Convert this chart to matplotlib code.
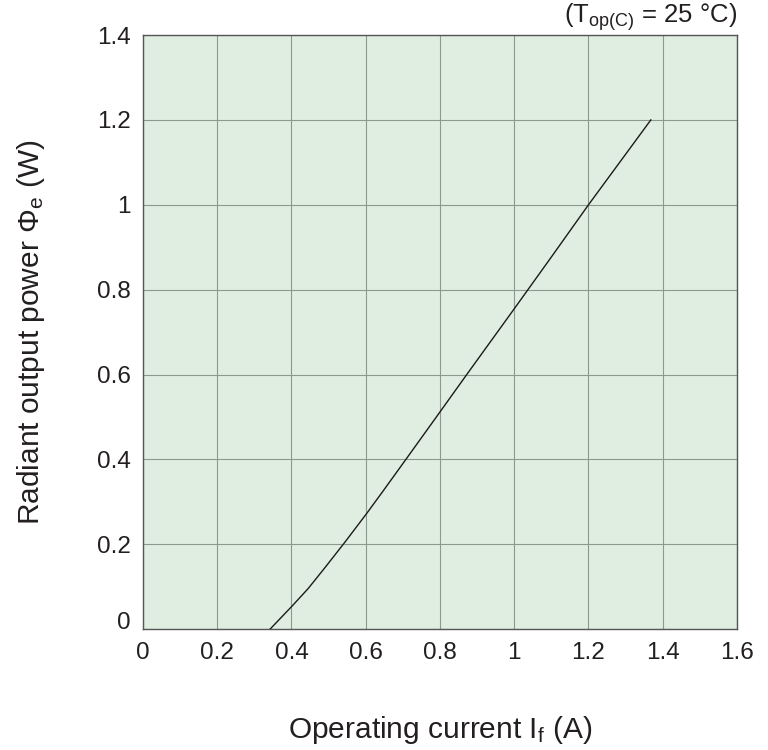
import matplotlib
matplotlib.use("Agg")
import matplotlib.pyplot as plt

plt.rcParams['font.family'] = ['Liberation Sans', 'DejaVu Sans']
plt.rcParams['mathtext.fontset'] = 'custom'
plt.rcParams['mathtext.rm'] = 'Liberation Sans'
plt.rcParams['mathtext.it'] = 'Liberation Sans:italic'

# Data
current_a = [0.342, 0.402, 0.445, 0.49, 0.542, 0.601, 0.647, 0.708, 0.8, 0.872,
             1.0, 1.1, 1.2, 1.368]
power_w = [0.0, 0.055, 0.096, 0.145, 0.203, 0.271, 0.326, 0.4, 0.512, 0.6,
           0.755, 0.877, 1.0, 1.2]

x_ticks = [0, 0.2, 0.4, 0.6, 0.8, 1.0, 1.2, 1.4, 1.6]
x_labels = ['0', '0.2', '0.4', '0.6', '0.8', '1', '1.2', '1.4', '1.6']
y_ticks = [0, 0.2, 0.4, 0.6, 0.8, 1.0, 1.2, 1.4]
y_labels = ['0', '0.2', '0.4', '0.6', '0.8', '1', '1.2', '1.4']

fig = plt.figure(figsize=(7.68, 7.50), dpi=100)
ax = fig.add_axes([0.1862, 0.161, 0.9596 - 0.1862, 0.9533 - 0.161])
ax.set_facecolor('#e0eee1')

ax.plot(current_a, power_w, color='#1a1a1a', lw=1.0, zorder=3)

ax.set_xlim(0, 1.6)
ax.set_ylim(0, 1.4)
ax.set_xticks(x_ticks)
ax.set_xticklabels(x_labels)
ax.set_yticks(y_ticks)
ax.set_yticklabels(y_labels)
ax.tick_params(axis='both', length=0, labelsize=17.5, colors='#231f20')
ax.tick_params(axis='x', pad=9)
ax.tick_params(axis='y', pad=9)
for lbl in ax.get_yticklabels():
    if lbl.get_text() == '0':
        lbl.set_va('baseline')

ax.grid(True, color='#8c9a8e', lw=0.8)
ax.set_axisbelow(True)
for s in ax.spines.values():
    s.set_color('#555555')
    s.set_linewidth(1.0)

ax.set_xlabel(r'Operating current I$_\mathrm{f}$ (A)', fontsize=21.5, color='#231f20', labelpad=36)
ax.set_ylabel(r'Radiant output power Φ$_\mathrm{e}$ (W)', fontsize=21.5, color='#231f20', labelpad=36)

fig.text(0.9596, 0.977, r'(T$_\mathrm{op(C)}$ = 25 °C)', ha='right', va='center',
         fontsize=18.5, color='#231f20')

fig.savefig('out.png', dpi=100)
